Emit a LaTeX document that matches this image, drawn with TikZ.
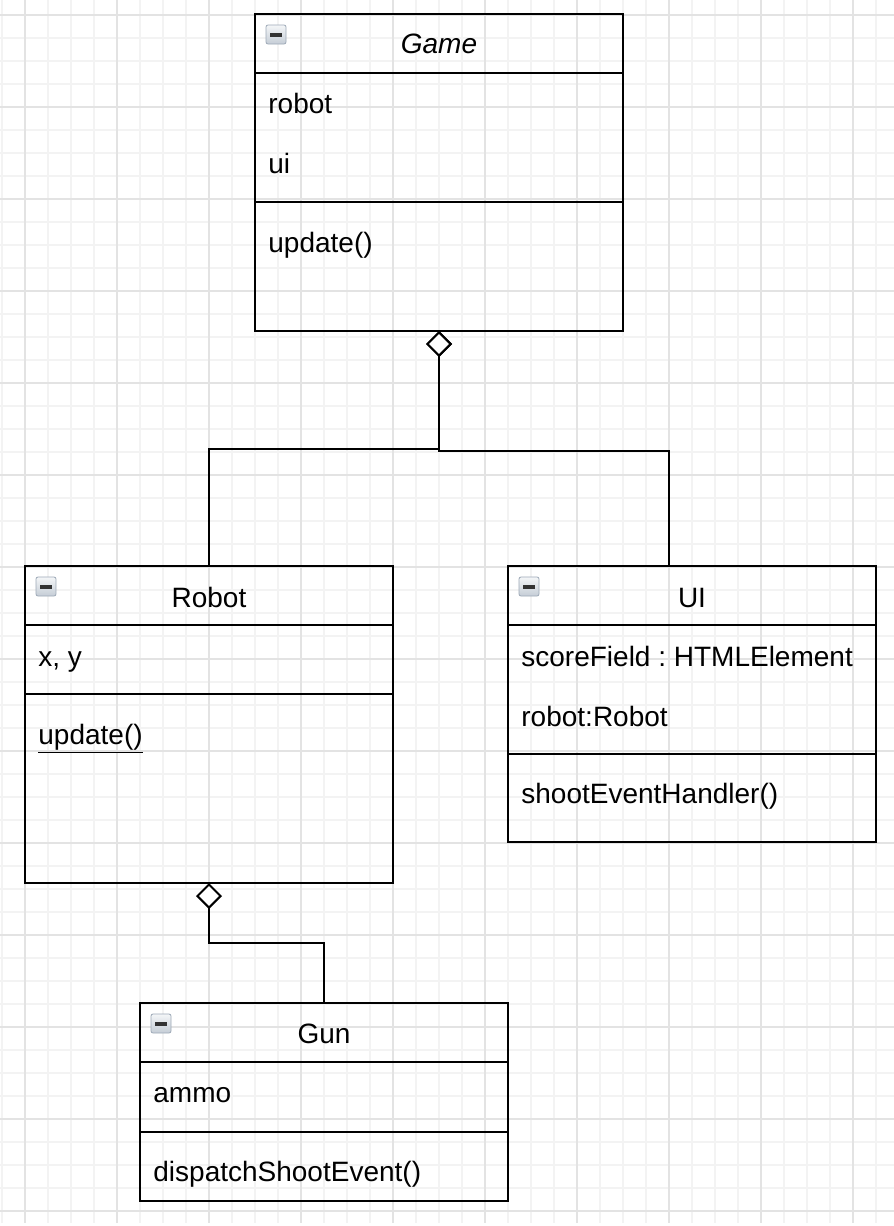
\documentclass[tikz,border=0pt]{standalone}
\usepackage{fontspec}
\setmainfont{Liberation Sans}
\usetikzlibrary{calc,positioning,arrows.meta}
\definecolor{gridmajor}{HTML}{E3E3E3}
\definecolor{gridminor}{HTML}{F3F3F3}
\definecolor{iconedge}{HTML}{9DA9B7}
\definecolor{icontop}{HTML}{F4F6F8}
\definecolor{iconbottom}{HTML}{C5CDD6}
\frenchspacing

\begin{document}
\begin{tikzpicture}[x=0.5pt, y=-0.5pt,
    classbox/.style={draw, line width=1pt, minimum width=184pt, inner sep=0pt, outer sep=0pt},
    classline/.style={line width=1pt},
    link/.style={line width=1pt},
    agg/.style={{Diamond[fill=white, length=13pt, width=13pt]}-},
    txt/.style={inner sep=0pt, font=\fontsize{14}{17}\selectfont}]

    \useasboundingbox (0,0) rectangle (894,1226);
    \fill[white] (0,0) rectangle (894,1226);

    % grid
    \foreach \gx in {2,25,...,894}
        \draw[gridminor, line width=0.6pt] (\gx,0) -- (\gx,1223);
    \foreach \gy in {15,38,...,1223}
        \draw[gridminor, line width=0.6pt] (0,\gy) -- (894,\gy);
    \foreach \gx in {25,117,...,894}
        \draw[gridmajor, line width=0.8pt] (\gx,0) -- (\gx,1223);
    \foreach \gy in {15,107,...,1223}
        \draw[gridmajor, line width=0.8pt] (0,\gy) -- (894,\gy);

    % classes
    \foreach \cname/\cx/\cy/\cheight/\csep in
    {game/255/14/317/188,
     robot/25/566/317/128,
     ui/508/566/276/188,
     gun/140/1003/198/129
    }
    {
        \node[classbox, minimum height=\cheight*0.5pt, anchor=north west] (\cname) at (\cx,\cy) {};
        \draw[classline] ($(\cname.north west)+(0,59)$) -- ($(\cname.north east)+(0,59)$);
        \draw[classline] ($(\cname.north west)+(0,\csep)$) -- ($(\cname.north east)+(0,\csep)$);
        \shade[top color=icontop, bottom color=iconbottom, draw=iconedge, rounded corners=1pt]
            ($(\cname.north west)+(11,11)$) rectangle ++(20,19);
        \fill[black!80] ($(\cname.north west)+(15,19)$) rectangle ++(12,3.5);
    };

    % titles
    \foreach \cname/\dy/\t in
    {game/40/{\itshape Game},
     robot/41/{Robot},
     ui/41/{UI},
     gun/40/{Gun}
    }
    {
        \node[txt, anchor=base] (\cname-title) at ($(\cname.north)+(0,\dy)$) {\t};
    };

    % attributes and methods
    \foreach \cname/\dy/\t [count=\i] in
    {game/99/{robot},
     game/159/{ui},
     game/238/{update()},
     robot/100/{x, y},
     robot/178/{\underline{update()}},
     ui/100/{scoreField : HTMLElement},
     ui/160/{robot:Robot},
     ui/237/{shootEventHandler()},
     gun/99/{ammo},
     gun/178/{dispatchShootEvent()}
    }
    {
        \node[txt, anchor=base west] (member\i) at ($(\cname.north west)+(13,\dy)$) {\t};
    };

    % aggregations
    \draw[link, agg] (game.south) -- ++(0,120) -| ($(ui.north)+(-23,0)$);
    \draw[link, agg] (game.south) -- ++(0,118) -| (robot.north);
    \draw[link, agg] (robot.south) -- ++(0,60) -| (gun.north);

\end{tikzpicture}
\end{document}
